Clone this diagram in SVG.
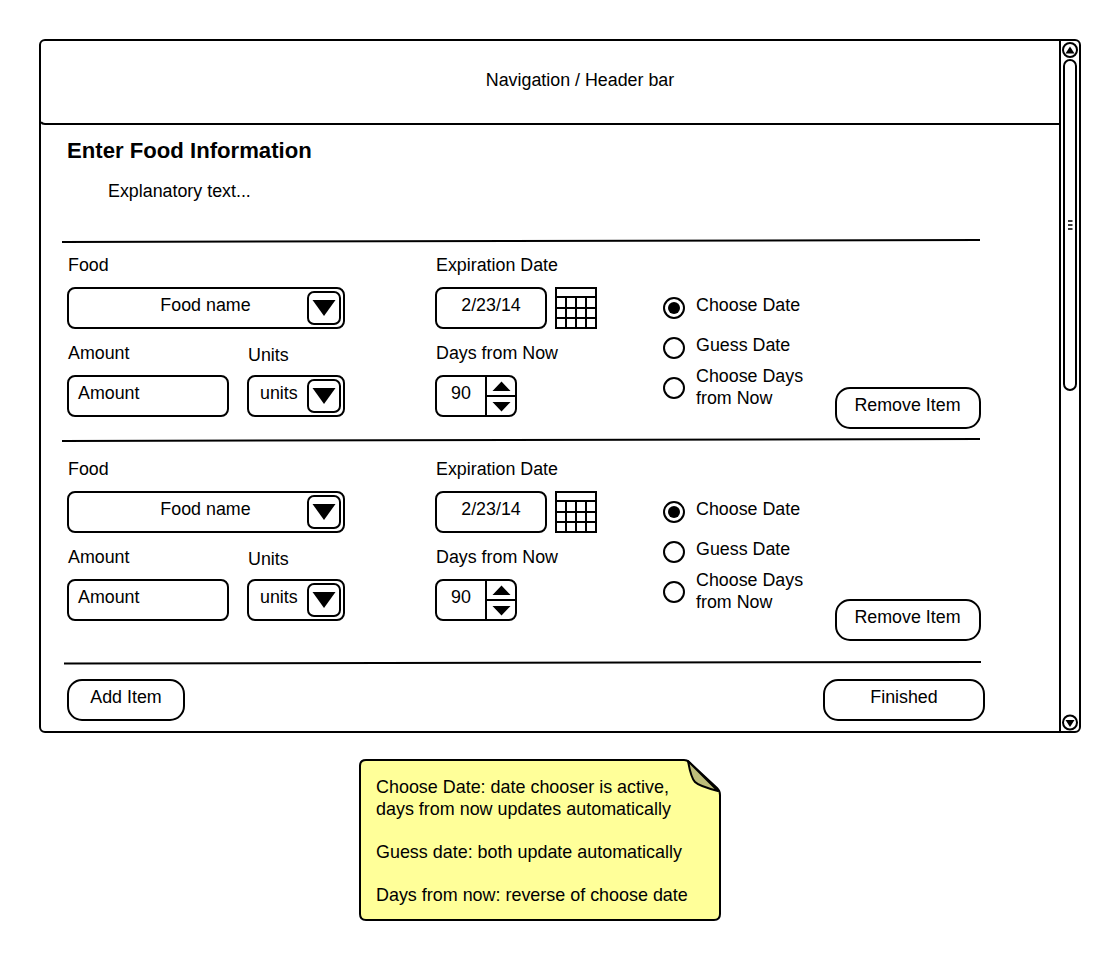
<svg xmlns="http://www.w3.org/2000/svg" width="1120" height="960" viewBox="0 0 1120 960">
<style>
text{font-family:"Liberation Sans",Arial,sans-serif;font-size:17.85px;fill:#000}
.s{fill:#fff;stroke:#000;stroke-width:2}
.n{fill:none;stroke:#000;stroke-width:2}
.f{fill:#000;stroke:none}
.m{text-anchor:middle}
#note text{font-size:17.93px}
</style>
<defs>
<g id="calgrid"><rect class="s" x="0" y="0" width="40" height="40"/><path class="n" d="M0 9H40M0 20H40M0 30H40M10 9V40M20 9V40M30 9V40"/></g>
<g id="drop"><rect class="s" x="0" y="0" width="32" height="32" rx="6"/><path class="f" d="M4.500 8H27.500L16 24Z"/></g>
</defs>
<rect width="1120" height="960" fill="#fff"/>
<g id="window"><rect class="s" x="40" y="40" width="1040" height="692" rx="5"/></g>
<g id="header"><path class="n" d="M41 122Q42 124 45 124H1060"/><text class="m" x="580" y="86">Navigation / Header bar</text></g>
<g id="scrollbar">
<path class="n" d="M1060 40V732"/>
<rect class="s" x="1064" y="60" width="12" height="330" rx="6"/>
<circle class="s" cx="1070" cy="50" r="7"/><path class="f" d="M1070 46.500L1074.500 53.500H1065.500Z"/>
<circle class="s" cx="1070" cy="722.500" r="7"/><path class="f" d="M1070 727L1074.500 720H1065.500Z"/>
<path class="n" style="stroke-width:1.500" d="M1068 221H1072.500M1068 225H1072.500M1068 229H1072.500"/>
</g>
<g id="title"><text x="67" y="158" style="font-size:22.150px;font-weight:bold">Enter Food Information</text><text x="108" y="197">Explanatory text...</text></g>
<g id="dividers"><path class="n" d="M62 242L980 240M62 441L980 439M64 663.500L981 662"/></g>

<g id="item1">
<text x="68" y="271">Food</text>
<rect class="s" x="68" y="288" width="276" height="40" rx="7"/><text class="m" x="205.500" y="311">Food name</text>
<use href="#drop" x="308" y="292"/>
<text x="68" y="359">Amount</text>
<rect class="s" x="68" y="376" width="160" height="40" rx="7"/><text x="78" y="399">Amount</text>
<text x="248" y="361">Units</text>
<rect class="s" x="248" y="376" width="96" height="40" rx="7"/><text x="260" y="399">units</text>
<use href="#drop" x="308" y="380"/>
<text x="436" y="271">Expiration Date</text>
<rect class="s" x="436" y="288" width="110" height="40" rx="7"/><text class="m" x="491" y="311">2/23/14</text>
<use href="#calgrid" x="556" y="288"/>
<text x="436" y="359">Days from Now</text>
<rect class="s" x="436" y="376" width="80" height="40" rx="7"/><text class="m" x="461" y="399">90</text>
<path class="n" d="M486 376V416M486 396H516"/><path class="f" d="M501.500 381.500L510.500 391H492.500ZM501.500 411.500L510.500 402H492.500Z"/>
<circle class="s" cx="674" cy="308" r="10"/><circle class="f" cx="674" cy="308" r="6"/>
<text x="696" y="311">Choose Date</text>
<circle class="s" cx="674" cy="348" r="10"/><text x="696" y="351">Guess Date</text>
<circle class="s" cx="674" cy="388" r="10"/><text x="696" y="382">Choose Days</text><text x="696" y="404">from Now</text>
<rect class="s" x="836" y="388" width="144" height="40" rx="14"/><text class="m" x="907.500" y="411">Remove Item</text>
</g>

<g id="item2">
<text x="68" y="475">Food</text>
<rect class="s" x="68" y="492" width="276" height="40" rx="7"/><text class="m" x="205.500" y="515">Food name</text>
<use href="#drop" x="308" y="496"/>
<text x="68" y="563">Amount</text>
<rect class="s" x="68" y="580" width="160" height="40" rx="7"/><text x="78" y="603">Amount</text>
<text x="248" y="565">Units</text>
<rect class="s" x="248" y="580" width="96" height="40" rx="7"/><text x="260" y="603">units</text>
<use href="#drop" x="308" y="584"/>
<text x="436" y="475">Expiration Date</text>
<rect class="s" x="436" y="492" width="110" height="40" rx="7"/><text class="m" x="491" y="515">2/23/14</text>
<use href="#calgrid" x="556" y="492"/>
<text x="436" y="563">Days from Now</text>
<rect class="s" x="436" y="580" width="80" height="40" rx="7"/><text class="m" x="461" y="603">90</text>
<path class="n" d="M486 580V620M486 600H516"/><path class="f" d="M501.500 585.500L510.500 595H492.500ZM501.500 615.500L510.500 606H492.500Z"/>
<circle class="s" cx="674" cy="512" r="10"/><circle class="f" cx="674" cy="512" r="6"/>
<text x="696" y="515">Choose Date</text>
<circle class="s" cx="674" cy="552" r="10"/><text x="696" y="555">Guess Date</text>
<circle class="s" cx="674" cy="592" r="10"/><text x="696" y="586">Choose Days</text><text x="696" y="608">from Now</text>
<rect class="s" x="836" y="600" width="144" height="40" rx="14"/><text class="m" x="907.500" y="623">Remove Item</text>
</g>

<g id="add-item"><rect class="s" x="68" y="680" width="116" height="40" rx="14"/><text class="m" x="126" y="703">Add Item</text></g>
<g id="finished"><rect class="s" x="824" y="680" width="160" height="40" rx="14"/><text class="m" x="904" y="703">Finished</text></g>

<g id="note">
<path d="M366 760H684Q687 760 689 762L717 788Q720 791 720 795V914Q720 920 714 920H366Q360 920 360 914V766Q360 760 366 760Z" fill="#ffff99" stroke="#000" stroke-width="2"/>
<path d="M688 761Q691 778 695 782Q699 786 718 791Z" fill="#bdbd7a" stroke="#000" stroke-width="2" stroke-linejoin="round"/>
<text x="376" y="793">Choose Date: date chooser is active,</text>
<text x="376" y="815">days from now updates automatically</text>
<text x="376" y="858">Guess date: both update automatically</text>
<text x="376" y="901">Days from now: reverse of choose date</text>
</g>
<g id="connectors"/>
</svg>
